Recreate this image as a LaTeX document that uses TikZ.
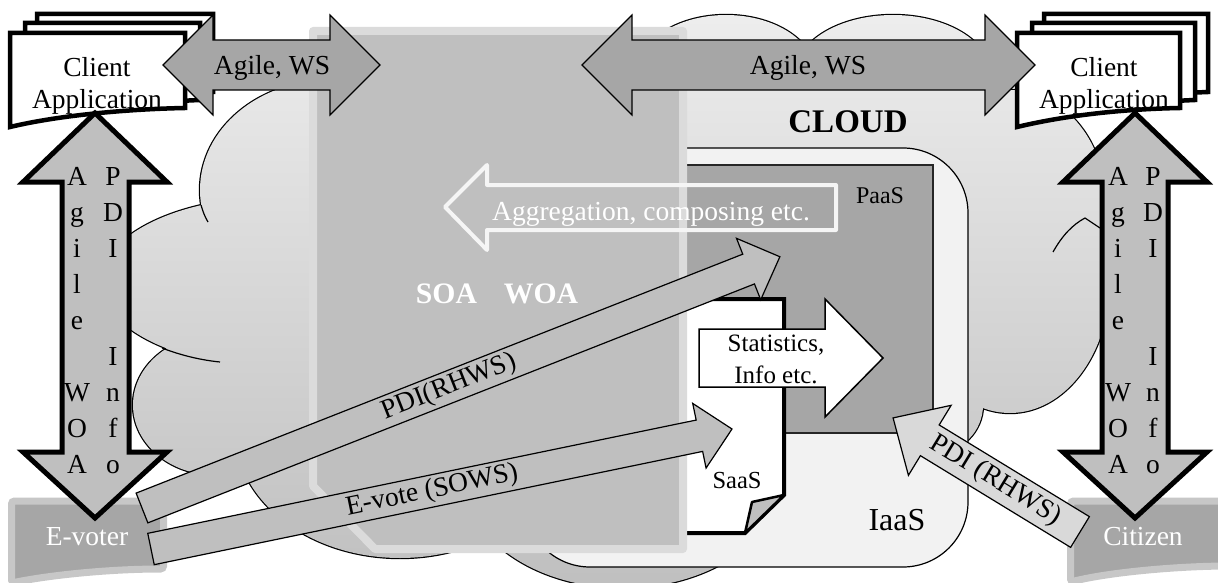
\documentclass[tikz,border=0pt]{standalone}
\usepackage{fontspec}
\setmainfont{Liberation Serif}
\begin{document}
\begin{tikzpicture}[x=1pt,y=-1pt,
  every node/.style={font=\fontsize{27.5}{32}\selectfont, inner sep=0pt, align=center},
  docline/.style={line width=4.5, draw=black, fill=white},
  bigarrow/.style={line width=5, draw=black, fill=black!25},
  flatarrow/.style={line width=1.2, draw=black},
  inner arc/.style={line width=1.2, draw=black},
  person/.style={line width=7, draw=black!22, fill=black!35, rounded corners=3}]
\useasboundingbox (0,0) rectangle (1218,583);

% ---------- cloud: union of lobes, outline only on the outside ----------
\def\lobes{
  (726,75) ellipse [x radius=90, y radius=60]
  (893,75) ellipse [x radius=98, y radius=60]
  (940,140) ellipse [x radius=75, y radius=65]
  (330,190) ellipse [x radius=130, y radius=110]
  (276,282) ellipse [x radius=175, y radius=85]
  (215,405) ellipse [x radius=82, y radius=70]
  (400,430) ellipse [x radius=165, y radius=128]
  (623,475) ellipse [x radius=160, y radius=113]
  (935,405) ellipse [x radius=48, y radius=48]
  (1010,280) ellipse [x radius=100, y radius=133]
  (1010,200) ellipse [x radius=95, y radius=110]
  (650,300) ellipse [x radius=350, y radius=230]}
\path[draw=black, line width=2.4] \lobes;
\path[top color=black!7, bottom color=black!25] \lobes;
\path[inner arc] (201,205) .. controls (203,212) and (205,217) .. (208,222);
\path[inner arc] (162,348) .. controls (180,355) and (200,360) .. (220,362);
\path[inner arc] (1053,252) .. controls (1062,236) and (1072,225) .. (1085,218) -- (1100,228);

% ---------- IaaS / PaaS / SaaS ----------
\draw[line width=1.2, fill=black!5, rounded corners=65] (525,148) rectangle (968,567);
\node[font=\fontsize{32}{36}\selectfont, anchor=base] (iaas) at (897,530) {IaaS};
\draw[line width=1.2, draw=black!85, fill=black!35] (600,165) rectangle (933,433);
\node[font=\fontsize{24}{28}\selectfont, anchor=base] (paas) at (880,203) {PaaS};
\draw[line width=4, fill=white] (640,299) -- (784,299) -- (784,495) -- (745,533) -- (640,533) -- cycle;
\draw[line width=2.5, fill=black!25, line join=round] (784,495) -- (752,502) -- (745,533) -- cycle;
\node[font=\fontsize{24.5}{28}\selectfont, anchor=base] (saas) at (737,488) {SaaS};

% ---------- SOA / WOA panel ----------
\draw[line width=8, draw=black!14, fill=black!25, line join=round]
  (313,31) -- (683,31) -- (683,549) -- (375,549) -- (313,486) -- cycle;
\node[font=\bfseries\fontsize{29.7}{34}\selectfont, text=white, anchor=base] (soa) at (446.5,303) {SOA};
\node[font=\bfseries\fontsize{29.7}{34}\selectfont, text=white, anchor=base] (woa) at (541,303) {WOA};

% ---------- statistics arrow ----------
\draw[line width=1.5, fill=white] (699,329) -- (825,329) -- (825,299) -- (883,358) -- (825,417) -- (825,387) -- (699,387) -- cycle;
\node[font=\fontsize{25}{32}\selectfont, anchor=base] (stat) at (776,383) {Statistics,\\Info etc.};

% ---------- aggregation arrow (outline only) ----------
\draw[draw=black!4, line width=4, line join=round]
  (445,207) -- (487,165) -- (487,185) -- (836,185) -- (836,230) -- (487,230) -- (487,250) -- cycle;
\node[text=white, anchor=base] (aggr) at (651,220) {Aggregation, composing etc.};

\node[font=\bfseries\fontsize{33}{38}\selectfont, anchor=base] (cloud) at (848,133) {CLOUD};

% ---------- client applications ----------
% #1 left edge of the front page, #2 its width, #3 text centre, #4 node name
\newcommand\multidoc[4]{%
  \begin{scope}[shift={(#1,0)}]
    \draw[docline] (27,14) -- (#2+28,14) -- (#2+28,92) .. controls (#2-25,94) and (80,100) .. (27,110) -- cycle;
    \draw[docline] (15,23) -- (#2+15,23) -- (#2+15,100) .. controls (#2-35,102) and (70,108) .. (15,118) -- cycle;
    \draw[docline] (0,33) -- (#2,33) -- (#2,108) .. controls (#2-55,109) and (50,115) .. (0,127) -- cycle;
    \node[anchor=base] (#4) at (#3,109) {Client\\Application};
  \end{scope}}
\multidoc{10}{175}{87}{clientL}
\multidoc{1017}{163}{87}{clientR}

% ---------- Agile, WS double arrows ----------
\draw[flatarrow, fill=black!35] (163,65) -- (213,15) -- (213,40) -- (330,40) -- (330,15) -- (380,65)
  -- (330,115) -- (330,90) -- (213,90) -- (213,115) -- cycle;
\node[anchor=base] (agileL) at (272,75) {Agile, WS};
\draw[flatarrow, fill=black!35] (582,65) -- (632,15) -- (632,40) -- (985,40) -- (985,15) -- (1035,65)
  -- (985,115) -- (985,90) -- (632,90) -- (632,115) -- cycle;
\node[anchor=base] (agileR) at (808,75) {Agile, WS};

% ---------- E-voter and Citizen ----------
\draw[person] (11.5,501) -- (163.5,501) -- (163.5,569) .. controls (110,569) and (50,575) .. (11.5,583) -- cycle;
\node[text=white, anchor=base] (evoter) at (87,545) {E-voter};
\draw[person] (1070.5,501) -- (1232,501) -- (1232,566) .. controls (1180,566) and (1110,572) .. (1070.5,582) -- cycle;
\node[text=white, anchor=base] (citizen) at (1143,545) {Citizen};

% ---------- vertical double arrows ----------
\draw[bigarrow] (95,113) -- (167,182) -- (129,182) -- (129,452) -- (167,452) -- (95,518)
  -- (23,452) -- (62,452) -- (62,182) -- (23,182) -- cycle;
\draw[bigarrow] (1135,113) -- (1207,182) -- (1168,182) -- (1168,452) -- (1207,452) -- (1135,518)
  -- (1063,452) -- (1102,452) -- (1102,182) -- (1063,182) -- cycle;
\foreach \l [count=\k from 0] in {A,g,i,l,e,{},W,O,A} {
  \node[anchor=base] (la\k) at (77,{185+36*\k}) {\l};
  \node[anchor=base] (ra\k) at (1118,{185+36*\k}) {\l};
}
\foreach \l [count=\k from 0] in {P,D,I,{},{},I,n,f,o} {
  \node[anchor=base] (lb\k) at (113,{185+36*\k}) {\l};
  \node[anchor=base] (rb\k) at (1153,{185+36*\k}) {\l};
}

% ---------- service calls ----------
\begin{scope}[shift={(142,508)}, rotate=21.5]
  \draw[flatarrow, fill=black!25] (0,-16) -- (652,-16) -- (652,-33) -- (685.6,0) -- (652,33) -- (652,16) -- (0,16) -- cycle;
  \node[rotate=21.5] (pdiL) at (330,0) {PDI(RHWS)};
\end{scope}
\begin{scope}[shift={(151,549)}, rotate=11.67]
  \draw[flatarrow, fill=black!25] (0,-16) -- (560,-16) -- (560,-33) -- (593.3,0) -- (560,33) -- (560,16) -- (0,16) -- cycle;
  \node[rotate=11.67] (evote) at (287,0) {E-vote (SOWS)};
\end{scope}
\begin{scope}[shift={(1080,532)}, rotate=148.6]
  \draw[flatarrow, fill=black!15] (0,-18) -- (176,-18) -- (176,-41) -- (219,0) -- (176,41) -- (176,18) -- (0,18) -- cycle;
  \node[rotate=-31.4] (pdiR) at (99,0) {PDI (RHWS)};
\end{scope}
\end{tikzpicture}
\end{document}
